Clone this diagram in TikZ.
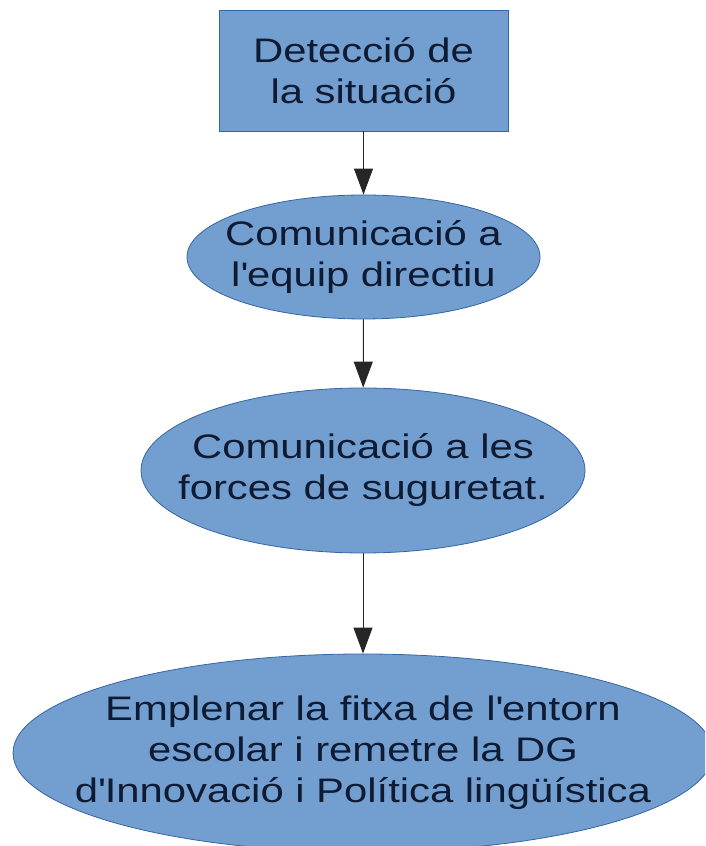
\documentclass[tikz,border=0pt]{standalone}
\usepackage{fontspec}
\setmainfont[FakeStretch=1.23]{Liberation Sans}
\usetikzlibrary{shapes.geometric,arrows.meta}
\definecolor{boxfill}{HTML}{729FCF}
\definecolor{boxline}{HTML}{3465A4}
\definecolor{boxtext}{HTML}{0F1A33}

\begin{document}
\begin{tikzpicture}[x=1pt,y=1pt,
  stage/.style={fill=boxfill,draw=boxline,line width=0.8pt,inner sep=0pt},
  steptext/.style={text=boxtext,align=center,font=\fontsize{34pt}{41pt}\selectfont},
  flow/.style={draw=black!85,line width=1pt,-{Triangle[width=19pt,length=26pt]}}]

\useasboundingbox (0,0) rectangle (705,846);
\clip (0,0) rectangle (705,846);

% Shapes
\node[stage,rectangle,minimum width=289pt,minimum height=121pt] (detect) at (363.5,775.5) {};
\node[stage,ellipse,minimum width=353pt,minimum height=124pt] (equip) at (363.5,589) {};
\node[stage,ellipse,minimum width=444pt,minimum height=165pt] (forces) at (363,375.5) {};
\node[stage,ellipse,minimum width=700pt,minimum height=198pt] (fitxa) at (363,93) {};

% Texts
\node[steptext] (detect-t) at (detect) {Detecció de\\ la situació};
\node[steptext] (equip-t) at (equip) {Comunicació a\\ l\textquotesingle equip directiu};
\node[steptext] (forces-t) at (forces) {Comunicació a les\\ forces de suguretat.};
\node[steptext] (fitxa-t) at (fitxa) {Emplenar la fitxa de l\textquotesingle entorn\\ escolar i remetre la DG\\ d\textquotesingle Innovació i Política lingüística};

% Arrows
\draw[flow] (detect) -- (equip);
\draw[flow] (equip) -- (forces);
\draw[flow] (forces) -- (fitxa);

\end{tikzpicture}
\end{document}
